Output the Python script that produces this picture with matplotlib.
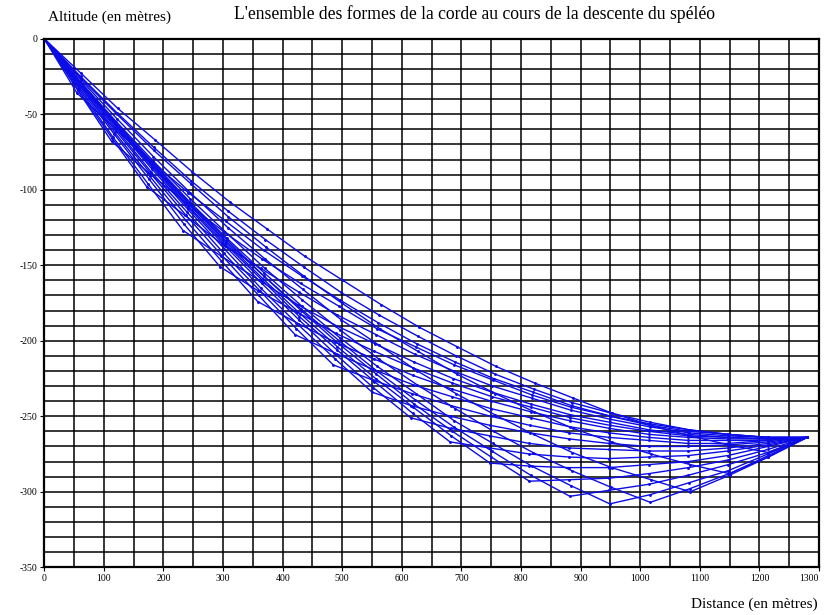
import numpy as np
import matplotlib
matplotlib.use("Agg")
import matplotlib.pyplot as plt

# points d'ancrage de la corde
ANCRE_A = (0, 0)
ANCRE_B = (1280, -264)

# abscisses des noeuds intermediaires, une liste par position du speleo
NOEUDS_X = [
    [61, 122, 184, 246, 308, 371, 435, 498, 562, 627, 691, 756, 821, 886, 952, 1017, 1083, 1148, 1214],
    [55, 117, 179, 242, 305, 368, 432, 496, 560, 625, 689, 754, 820, 885, 951, 1016, 1082, 1148, 1214],
    [56, 113, 176, 239, 302, 366, 430, 494, 558, 623, 688, 753, 819, 884, 950, 1016, 1082, 1148, 1214],
    [57, 114, 172, 236, 299, 363, 428, 492, 557, 622, 687, 752, 818, 884, 950, 1016, 1082, 1148, 1214],
    [58, 115, 174, 233, 297, 361, 425, 490, 555, 620, 686, 751, 817, 883, 949, 1015, 1081, 1148, 1214],
    [58, 117, 176, 235, 295, 359, 424, 489, 554, 619, 685, 751, 817, 883, 949, 1015, 1081, 1147, 1214],
    [59, 118, 177, 237, 297, 358, 423, 488, 553, 619, 684, 750, 816, 882, 948, 1015, 1081, 1147, 1214],
    [59, 118, 178, 238, 299, 360, 421, 487, 552, 618, 684, 750, 816, 882, 948, 1014, 1081, 1147, 1214],
    [59, 119, 179, 240, 301, 362, 423, 485, 551, 617, 683, 749, 815, 881, 948, 1014, 1081, 1147, 1214],
    [60, 120, 180, 241, 302, 363, 425, 488, 550, 616, 682, 748, 815, 881, 948, 1014, 1081, 1147, 1214],
    [60, 120, 181, 242, 303, 365, 427, 489, 552, 615, 682, 748, 814, 881, 947, 1014, 1081, 1147, 1214],
    [60, 120, 181, 242, 304, 366, 428, 491, 554, 618, 681, 748, 814, 881, 947, 1014, 1081, 1147, 1214],
    [60, 121, 182, 243, 305, 367, 429, 492, 556, 619, 683, 748, 814, 881, 947, 1014, 1081, 1147, 1214],
    [60, 121, 182, 243, 305, 368, 431, 494, 557, 621, 685, 750, 814, 881, 948, 1014, 1081, 1147, 1214],
    [60, 121, 182, 244, 306, 368, 431, 495, 558, 622, 687, 751, 816, 882, 948, 1015, 1081, 1148, 1214],
    [60, 121, 182, 244, 306, 369, 432, 496, 559, 624, 688, 753, 818, 884, 949, 1016, 1082, 1148, 1214],
    [60, 121, 183, 245, 307, 370, 433, 497, 561, 625, 690, 754, 820, 885, 951, 1017, 1083, 1149, 1215],
    [61, 122, 183, 245, 308, 371, 434, 498, 562, 626, 691, 756, 821, 886, 952, 1018, 1084, 1150, 1215],
    [61, 122, 184, 246, 309, 372, 435, 499, 563, 627, 692, 757, 822, 887, 952, 1018, 1084, 1150, 1215],
    [62, 123, 186, 248, 311, 374, 437, 501, 565, 629, 693, 758, 823, 888, 953, 1018, 1084, 1149, 1215],
]

# altitudes des memes noeuds
NOEUDS_Y = [
    [-25, -49, -72, -94, -114, -133, -151, -168, -183, -197, -210, -222, -232, -241, -248, -254, -259, -262, -264],
    [-36, -59, -81, -102, -121, -140, -157, -173, -188, -202, -214, -225, -234, -243, -250, -255, -259, -262, -264],
    [-34, -68, -89, -109, -128, -146, -162, -177, -192, -204, -216, -226, -236, -244, -250, -256, -260, -262, -264],
    [-34, -66, -98, -117, -136, -152, -168, -183, -196, -209, -220, -230, -238, -246, -252, -257, -261, -263, -264],
    [-33, -65, -96, -127, -144, -160, -176, -190, -202, -214, -225, -234, -242, -249, -254, -259, -262, -264, -265],
    [-32, -63, -93, -123, -151, -167, -181, -195, -207, -218, -228, -237, -244, -251, -256, -260, -263, -264, -265],
    [-31, -62, -91, -120, -147, -174, -188, -201, -212, -223, -232, -240, -247, -253, -258, -262, -264, -265, -265],
    [-31, -60, -89, -117, -144, -170, -196, -208, -219, -229, -237, -245, -251, -257, -261, -264, -266, -266, -266],
    [-30, -59, -88, -115, -142, -167, -192, -216, -226, -235, -243, -250, -256, -261, -264, -266, -268, -268, -266],
    [-30, -58, -86, -113, -139, -165, -189, -212, -234, -243, -250, -256, -261, -265, -268, -270, -270, -269, -267],
    [-29, -58, -85, -112, -137, -162, -186, -209, -231, -251, -258, -263, -268, -271, -272, -273, -273, -271, -268],
    [-29, -57, -84, -111, -136, -160, -184, -206, -227, -248, -267, -271, -275, -277, -278, -277, -276, -273, -269],
    [-29, -57, -84, -110, -135, -159, -182, -204, -225, -244, -263, -281, -283, -284, -284, -282, -280, -276, -270],
    [-29, -56, -83, -109, -134, -157, -180, -202, -222, -242, -260, -277, -293, -292, -291, -288, -284, -279, -272],
    [-29, -56, -83, -109, -133, -157, -179, -200, -220, -239, -257, -273, -289, -303, -299, -295, -289, -282, -274],
    [-29, -56, -82, -108, -132, -155, -177, -198, -217, -235, -253, -268, -283, -296, -308, -302, -294, -286, -275],
    [-28, -55, -81, -106, -129, -152, -173, -193, -212, -229, -245, -260, -274, -286, -297, -307, -298, -288, -277],
    [-27, -53, -78, -102, -125, -146, -166, -186, -203, -220, -235, -249, -262, -274, -284, -292, -300, -289, -277],
    [-26, -50, -74, -96, -118, -138, -157, -175, -192, -207, -222, -235, -247, -258, -267, -275, -282, -288, -276],
    [-23, -46, -67, -88, -108, -126, -144, -160, -176, -191, -204, -217, -228, -238, -248, -256, -263, -269, -274],
]

plt.rcParams['font.family'] = ['Liberation Serif', 'DejaVu Serif']
plt.rcParams['axes.unicode_minus'] = False

fig = plt.figure(figsize=(8.26, 6.15), dpi=100)
ax = fig.add_axes([0.0536, 0.0776, 0.9379, 0.8594])

# une ligne brisee par position du speleo, ancree aux deux bouts
for xs, ys in zip(NOEUDS_X, NOEUDS_Y):
    x = [ANCRE_A[0]] + xs + [ANCRE_B[0]]
    y = [ANCRE_A[1]] + ys + [ANCRE_B[1]]
    ax.plot(x, y, color='#0c0ce6', lw=1.0, marker='.', ms=2.2)

ax.set_xlim(0, 1300)
ax.set_ylim(-350, 0)
ax.set_xticks(np.arange(0, 1301, 100))
ax.set_yticks(np.arange(-350, 1, 50))
ax.set_xticks(np.arange(0, 1301, 50), minor=True)
ax.set_yticks(np.arange(-350, 1, 10), minor=True)
ax.grid(which='both', color='black', lw=1.1)
ax.tick_params(which='minor', length=0)
ax.tick_params(which='major', length=3, width=0.8, labelsize=7, pad=2)
for sp in ax.spines.values():
    sp.set_linewidth(1.6)
ax.set_axisbelow(True)

# le dernier libelle colle au bord droit
ax.xaxis.get_major_ticks()[-1].label1.set_horizontalalignment('right')

fig.text(0.058, 0.972, "Altitude (en mètres)", fontsize=11, va='center', ha='left')
fig.text(0.574, 0.977, "L'ensemble des formes de la corde au cours de la descente du spéléo",
         fontsize=12.7, va='center', ha='center')
fig.text(0.99, 0.018, "Distance (en mètres)", fontsize=11, va='center', ha='right')

fig.savefig("out.png", dpi=100)
